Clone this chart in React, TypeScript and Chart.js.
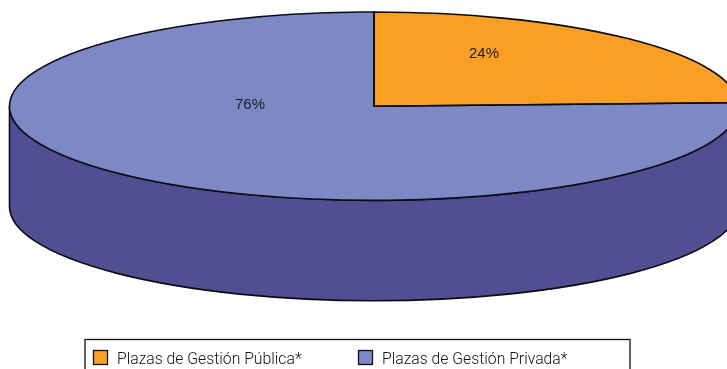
import React, { useEffect, useRef } from "react";
import { Chart, registerables } from "chart.js";

Chart.register(...registerables);

const categories = ["Plazas de Gestión Pública*", "Plazas de Gestión Privada*"];
const shares = [24.4, 75.6];
const shareLabels = ["24%", "76%"];
const topColors = ["#F9A024", "#7D89C4"];
const wallColors = ["#B8741A", "#514F91"];

const CX = 374, CY = 106.2, RX = 364.5, RY = 94.2, DEPTH = 100.3;
const LINE = "#0c0c14";
const labelSpots = [[484, 53.5], [250, 104.5]];
const legendSpots = [[93, 117], [358, 382]];

const applyEllipse = (ctx: CanvasRenderingContext2D, arc: any) => {
  ctx.translate(CX, CY);
  ctx.scale(RX / arc.outerRadius, RY / arc.outerRadius);
  ctx.translate(-arc.x, -arc.y);
};

const pie3d = {
  id: "pie3d",
  beforeDatasetsDraw(chart: any) {
    const { ctx } = chart;
    const arcs = chart.getDatasetMeta(0).data;
    ctx.save();
    ctx.lineWidth = 1.6;
    ctx.strokeStyle = LINE;
    arcs.forEach((arc: any, i: number) => {
      const a = Math.max(arc.startAngle, 0);
      const b = Math.min(arc.endAngle, Math.PI);
      if (b <= a) return;
      ctx.beginPath();
      ctx.ellipse(CX, CY, RX, RY, 0, a, b);
      ctx.ellipse(CX, CY + DEPTH, RX, RY, 0, b, a, true);
      ctx.closePath();
      ctx.fillStyle = wallColors[i];
      ctx.fill();
      ctx.stroke();
    });
    ctx.restore();
    ctx.save();
    applyEllipse(ctx, arcs[0]);
  },
  afterDatasetsDraw(chart: any) {
    const { ctx } = chart;
    const arcs = chart.getDatasetMeta(0).data;
    ctx.restore();
    ctx.save();
    ctx.lineWidth = 1.6;
    ctx.strokeStyle = LINE;
    ctx.lineJoin = "miter";
    arcs.forEach((arc: any) => {
      ctx.save();
      applyEllipse(ctx, arc);
      ctx.beginPath();
      ctx.moveTo(arc.x, arc.y);
      ctx.arc(arc.x, arc.y, arc.outerRadius, arc.startAngle, arc.endAngle);
      ctx.closePath();
      ctx.restore();
      ctx.stroke();
    });
    ctx.fillStyle = "#1c1c24";
    ctx.font = '15px "Liberation Sans"';
    ctx.textAlign = "center";
    ctx.textBaseline = "middle";
    shareLabels.forEach((t, i) => ctx.fillText(t, labelSpots[i][0], labelSpots[i][1]));
    ctx.restore();
  },
  afterDraw(chart: any) {
    const { ctx } = chart;
    ctx.save();
    ctx.fillStyle = "#ffffff";
    ctx.fillRect(85, 339.5, 545, 40);
    ctx.lineWidth = 1.3;
    ctx.strokeStyle = "#111111";
    ctx.strokeRect(85, 339.5, 545, 40);
    ctx.font = '300 15.75px Roboto';
    ctx.textBaseline = "alphabetic";
    ctx.textAlign = "left";
    categories.forEach((c, i) => {
      ctx.fillStyle = topColors[i];
      ctx.fillRect(legendSpots[i][0] + 0.5, 350.5, 14, 14);
      ctx.strokeRect(legendSpots[i][0] + 0.5, 350.5, 14, 14);
      ctx.fillStyle = "#111111";
      ctx.fillText(c, legendSpots[i][1], 364);
    });
    ctx.restore();
  },
};

export default function App() {
  const ref = useRef<HTMLCanvasElement>(null);
  useEffect(() => {
    const chart = new Chart(ref.current!, {
      type: "pie",
      data: {
        labels: categories,
        datasets: [
          {
            data: shares,
            backgroundColor: topColors,
            borderWidth: 0,
            clip: false,
          } as any,
        ],
      },
      options: {
        animation: false,
        responsive: false,
        plugins: { legend: { display: false }, tooltip: { enabled: false } },
      },
      plugins: [pie3d],
    });
    return () => chart.destroy();
  }, []);
  return (
    <canvas
      ref={ref}
      width={727}
      height={369}
      style={{ position: "absolute", left: 0, top: 0, width: 727, height: 369, display: "block" }}
    />
  );
}
